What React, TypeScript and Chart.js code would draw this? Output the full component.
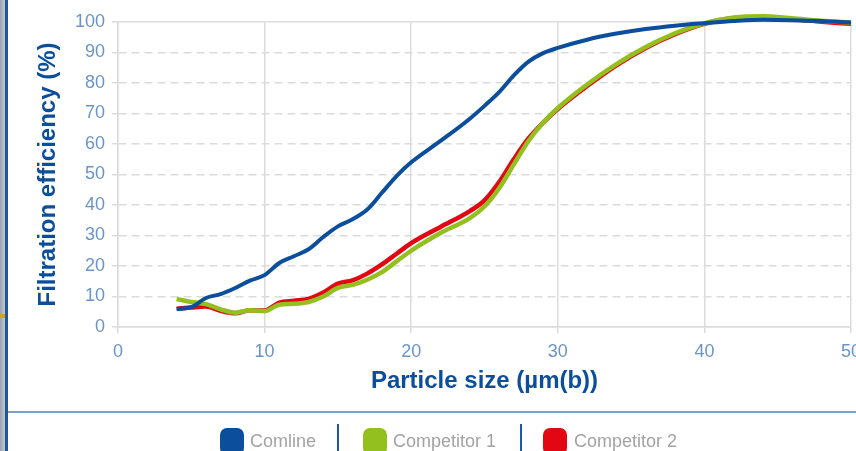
import React, { useEffect, useRef } from "react";
import { Chart, registerables } from "chart.js";

Chart.register(...registerables);

const particleSize = [4, 5, 6, 7, 8, 9, 10, 11, 12, 13, 14, 15, 16, 17, 18, 19, 20, 22, 24, 25, 26, 27, 28, 29, 30, 32, 34, 36, 38, 40, 42, 44, 46, 48, 50];
const comline = [5.9, 6.5, 9.5, 10.8, 12.8, 15.2, 17, 21, 23.2, 25.5, 29.5, 33, 35.3, 38.5, 44, 49.5, 54, 61, 68.3, 72.5, 77, 82.5, 87, 89.8, 91.5, 94.2, 96.2, 97.7, 98.8, 99.6, 100.3, 100.7, 100.6, 100.3, 99.8];
const competitor1 = [9.2, 8.2, 7.5, 5.8, 4.7, 5.5, 5.2, 7.3, 7.6, 8.2, 10, 12.8, 13.8, 15.5, 18, 21.5, 25, 30.8, 35.7, 39.5, 45.5, 53.3, 61, 67, 71.8, 79.5, 86.2, 91.8, 96.3, 99.6, 101.5, 101.9, 101.2, 100.4, 99.8];
const competitor2 = [6, 6.4, 6.7, 5.3, 4.5, 5.5, 5.4, 8, 8.6, 9.2, 11.3, 14.2, 15.3, 17.5, 20.5, 24, 27.5, 32.8, 38, 41.5, 47.5, 55, 61.8, 67, 71.5, 79, 85.8, 91.5, 96, 99.4, 101.2, 101.5, 100.9, 100.1, 99.4];
const seriesNames = ["Comline", "Competitor 1", "Competitor 2"];
const seriesColors = ["#0b4f9c", "#93c01f", "#e30613"];
const xTitle = "Particle size (µm(b))";
const yTitle = "Filtration efficiency (%)";

const toPoints = (ys: number[]) => ys.map((y, i) => ({ x: particleSize[i], y }));

export default function App() {
  const ref = useRef<HTMLCanvasElement | null>(null);
  useEffect(() => {
    if (!ref.current) return;
    const gridColor = "#dcdcdc";
    const tickColor = "#6b94c9";
    const chart = new Chart(ref.current, {
      type: "line",
      data: {
        datasets: [comline, competitor1, competitor2].map((d, i) => ({
          label: seriesNames[i],
          data: toPoints(d),
          borderColor: seriesColors[i],
          backgroundColor: seriesColors[i],
          borderWidth: i === 0 ? 4 : 4.5,
          pointRadius: 0,
          cubicInterpolationMode: "monotone" as const,
          clip: false as any,
          fill: false,
        })),
      },
      options: {
        responsive: false,
        animation: false,
        devicePixelRatio: window.devicePixelRatio,
        layout: { padding: { top: 22, right: 29, left: 0, bottom: 0 } },
        plugins: { legend: { display: false }, tooltip: { enabled: false } },
        scales: {
          x: {
            type: "linear",
            min: 0,
            max: 50,
            ticks: { stepSize: 10, color: tickColor, padding: 8, font: { family: "Liberation Sans", size: 18 } },
            grid: { color: gridColor, lineWidth: 1.5, tickLength: 6 },
            border: { color: gridColor, width: 1.5 },
            title: {
              display: true,
              text: xTitle,
              color: "#0b4f9c",
              font: { family: "Liberation Sans", size: 24, weight: "bold" },
              padding: { top: 0, bottom: 55 },
            },
            afterFit: (s: any) => { s.height = 124; },
          },
          y: {
            min: 0,
            max: 100,
            ticks: { stepSize: 10, color: tickColor, padding: 7, font: { family: "Liberation Sans", size: 18 } },
            grid: { color: gridColor, lineWidth: 1.5, tickLength: 6 },
            border: {
              color: gridColor,
              width: 1.5,
              dash: (ctx: any) => (ctx.tick && (ctx.tick.value === 0 || ctx.tick.value === 100) ? [] : [8, 5]),
            },
            title: {
              display: true,
              text: yTitle,
              color: "#0b4f9c",
              font: { family: "Liberation Sans", size: 24, weight: "bold" },
              padding: { top: 34, bottom: 0 },
            },
            afterFit: (s: any) => { s.width = 118; },
          },
        },
      },
    });
    return () => chart.destroy();
  }, []);

  const legendItems = [
    { swatch: 220, text: 250 },
    { swatch: 363, text: 393 },
    { swatch: 543, text: 574 },
  ];
  const separators = [338, 521];

  return (
    <div style={{ position: "fixed", left: 0, top: 0, width: 856, height: 451, overflow: "hidden", background: "#fff" }}>
      <canvas ref={ref} width={880} height={451} style={{ position: "absolute", left: 0, top: 0, width: 880, height: 451 }} />
      <div style={{ position: "absolute", left: 0, top: 0, width: 5, height: 451, background: "linear-gradient(90deg,#9aa2ac,#c4c9cf)" }} />
      <div style={{ position: "absolute", left: 0, top: 314, width: 5, height: 4, background: "#d0a514" }} />
      <div style={{ position: "absolute", left: 5, top: 0, width: 3, height: 451, background: "#1d58a3" }} />
      <div style={{ position: "absolute", left: 8, top: 411, width: 848, height: 2, background: "#7b9fcf" }} />
      {separators.map((x, i) => (
        <div key={"s" + i} style={{ position: "absolute", left: x - 1, top: 424, width: 2, height: 27, background: "#1d58a3" }} />
      ))}
      {legendItems.map((it, i) => (
        <React.Fragment key={"l" + i}>
          <div style={{ position: "absolute", left: it.swatch, top: 428, width: 24, height: 27, borderRadius: 7, background: seriesColors[i] }} />
          <div
            style={{
              position: "absolute",
              left: it.text,
              top: 431,
              lineHeight: "20px",
              fontSize: 18,
              fontFamily: "Liberation Sans",
              color: "#a3a3a3",
              whiteSpace: "nowrap",
            }}
          >
            {seriesNames[i]}
          </div>
        </React.Fragment>
      ))}
    </div>
  );
}
